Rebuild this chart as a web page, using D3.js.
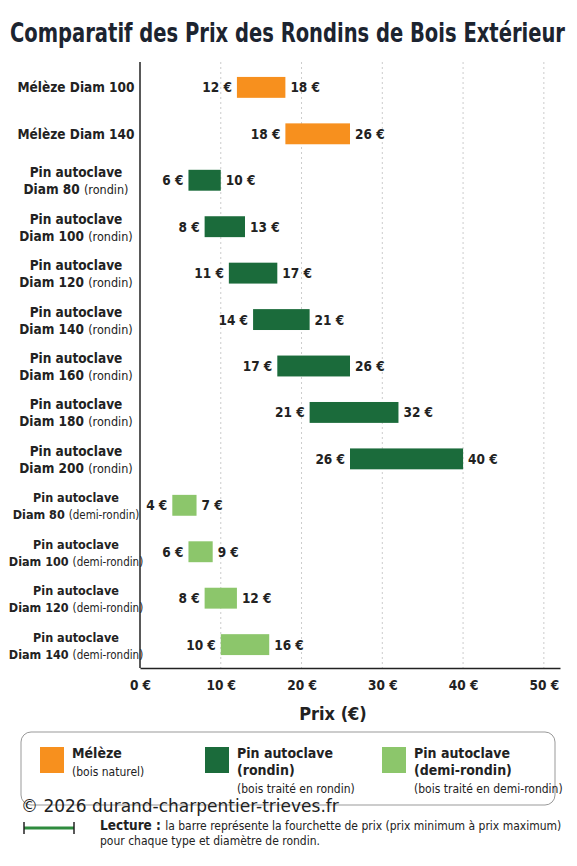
<!DOCTYPE html>
<html><head><meta charset="utf-8">
<script src="https://cdn.jsdelivr.net/npm/d3@7"></script>
<style>body{margin:0;background:#fff}text{font-family:"DejaVu Sans Condensed","DejaVu Sans",sans-serif;font-stretch:condensed}</style>
</head><body><svg id="c" width="577" height="866"></svg>
<script>
const labels1 = ["Mélèze Diam 100","Mélèze Diam 140","Pin autoclave","Pin autoclave","Pin autoclave","Pin autoclave","Pin autoclave","Pin autoclave","Pin autoclave","Pin autoclave","Pin autoclave","Pin autoclave","Pin autoclave"];
const labels2 = ["","","Diam 80","Diam 100","Diam 120","Diam 140","Diam 160","Diam 180","Diam 200","Diam 80","Diam 100","Diam 120","Diam 140"];
const labels3 = ["","","(rondin)","(rondin)","(rondin)","(rondin)","(rondin)","(rondin)","(rondin)","(demi-rondin)","(demi-rondin)","(demi-rondin)","(demi-rondin)"];
const types = ["m","m","r","r","r","r","r","r","r","d","d","d","d"];
const minP = [12,18,6,8,11,14,17,21,26,4,6,8,10];
const maxP = [18,26,10,13,17,21,26,32,40,7,9,12,16];
const ticks = [0,10,20,30,40,50];
const colors = {m:"#f7901e", r:"#1b6b3b", d:"#8cc66b"};

const svg = d3.select("#c");
const x = d3.scaleLinear().domain([0,52]).range([140,560]);
const y = d3.scaleBand().domain(d3.range(13)).range([63,669]).paddingInner(0.55).paddingOuter(0.3);

svg.append("text").attr("x",10).attr("y",42).attr("textLength",555).attr("lengthAdjust","spacingAndGlyphs").attr("font-size",26).attr("font-weight","bold").attr("fill","#1c2430").text("Comparatif des Prix des Rondins de Bois Extérieur");

svg.append("g").selectAll("line").data(ticks.slice(1)).join("line")
 .attr("x1",d=>x(d)).attr("x2",d=>x(d)).attr("y1",62).attr("y2",668)
 .attr("stroke","#ccc").attr("stroke-dasharray","2,3");

const g = svg.append("g").selectAll("g").data(d3.range(13)).join("g");
g.append("rect").attr("x",i=>x(minP[i])).attr("width",i=>x(maxP[i])-x(minP[i]))
 .attr("y",i=>y(i)).attr("height",y.bandwidth()).attr("fill",i=>colors[types[i]]);
g.append("text").attr("x",i=>x(minP[i])-5).attr("y",i=>y(i)+y.bandwidth()/2+5).attr("text-anchor","end")
 .attr("font-size",13.5).attr("font-weight","bold").attr("fill","#222").text(i=>minP[i]+" €");
g.append("text").attr("x",i=>x(maxP[i])+5).attr("y",i=>y(i)+y.bandwidth()/2+5)
 .attr("font-size",13.5).attr("font-weight","bold").attr("fill","#222").text(i=>maxP[i]+" €");
g.each(function(i){
  const t = d3.select(this).append("text").attr("text-anchor","middle").attr("x",76).attr("fill","#222").attr("font-size",13.5);
  const cy = y(i)+y.bandwidth()/2;
  if(!labels2[i]){ t.attr("y",cy+5).attr("font-weight","bold").text(labels1[i]); return; }
  const fs = types[i]==="d"?12.5:13.5;
  t.attr("font-size",fs);
  t.append("tspan").attr("x",76).attr("y",cy-3).attr("font-weight","bold").text(labels1[i]);
  const t2 = t.append("tspan").attr("x",76).attr("y",cy+14);
  t2.append("tspan").attr("font-weight","bold").text(labels2[i]+" ");
  t2.append("tspan").attr("font-size",fs-1).text(labels3[i]);
});

const ax = svg.append("g").attr("transform","translate(0,668)").call(d3.axisBottom(x).tickValues(ticks).tickFormat(d=>d+" €").tickSize(0).tickPadding(12));
ax.select(".domain").attr("stroke","#222").attr("stroke-width",1.5);
ax.selectAll("text").attr("font-size",13.5).attr("font-weight","bold").attr("fill","#222").style("font-family",'"DejaVu Sans Condensed","DejaVu Sans",sans-serif').style("font-stretch","condensed");
svg.append("line").attr("x1",140).attr("x2",140).attr("y1",62).attr("y2",668).attr("stroke","#222").attr("stroke-width",1.5);
svg.append("text").attr("x",333).attr("y",720).attr("text-anchor","middle").attr("font-size",18).attr("font-weight","bold").attr("fill","#222").text("Prix (€)");

svg.append("rect").attr("x",21).attr("y",732).attr("width",534).attr("height",73).attr("rx",10).attr("fill","#fff").attr("stroke","#999");
const leg = [
 {k:"m",x:40,l:["Mélèze"],s:"(bois naturel)"},
 {k:"r",x:205,l:["Pin autoclave","(rondin)"],s:"(bois traité en rondin)"},
 {k:"d",x:382,l:["Pin autoclave","(demi-rondin)"],s:"(bois traité en demi-rondin)"}];
leg.forEach(d=>{
  svg.append("rect").attr("x",d.x).attr("y",747).attr("width",24).attr("height",26).attr("fill",colors[d.k]);
  d.l.forEach((t,j)=>svg.append("text").attr("x",d.x+32).attr("y",758+j*17).attr("font-size",14).attr("font-weight","bold").attr("fill","#222").text(t));
  svg.append("text").attr("x",d.x+32).attr("y",d.l.length>1?793:776).attr("font-size",12).attr("fill","#222").text(d.s);
});
svg.append("text").attr("x",21).attr("y",812).attr("font-size",17).attr("fill","#222").style("font-family","DejaVu Sans, sans-serif").style("font-stretch","normal").text("© 2026 durand-charpentier-trieves.fr");
svg.append("line").attr("x1",24).attr("x2",74).attr("y1",828).attr("y2",828).attr("stroke","#2e8b3e").attr("stroke-width",3);
[24,74].forEach(v=>svg.append("line").attr("x1",v).attr("x2",v).attr("y1",822).attr("y2",834).attr("stroke","#222").attr("stroke-width",1.5));
const lt = svg.append("text").attr("x",100).attr("y",830).attr("font-size",12).attr("fill","#222");
lt.append("tspan").attr("font-weight","bold").attr("font-size",13.5).text("Lecture : ");
lt.append("tspan").text(" la barre représente la fourchette de prix (prix minimum à prix maximum)");
svg.append("text").attr("x",100).attr("y",845).attr("font-size",12).attr("fill","#222").text("pour chaque type et diamètre de rondin.");
</script></body></html>
